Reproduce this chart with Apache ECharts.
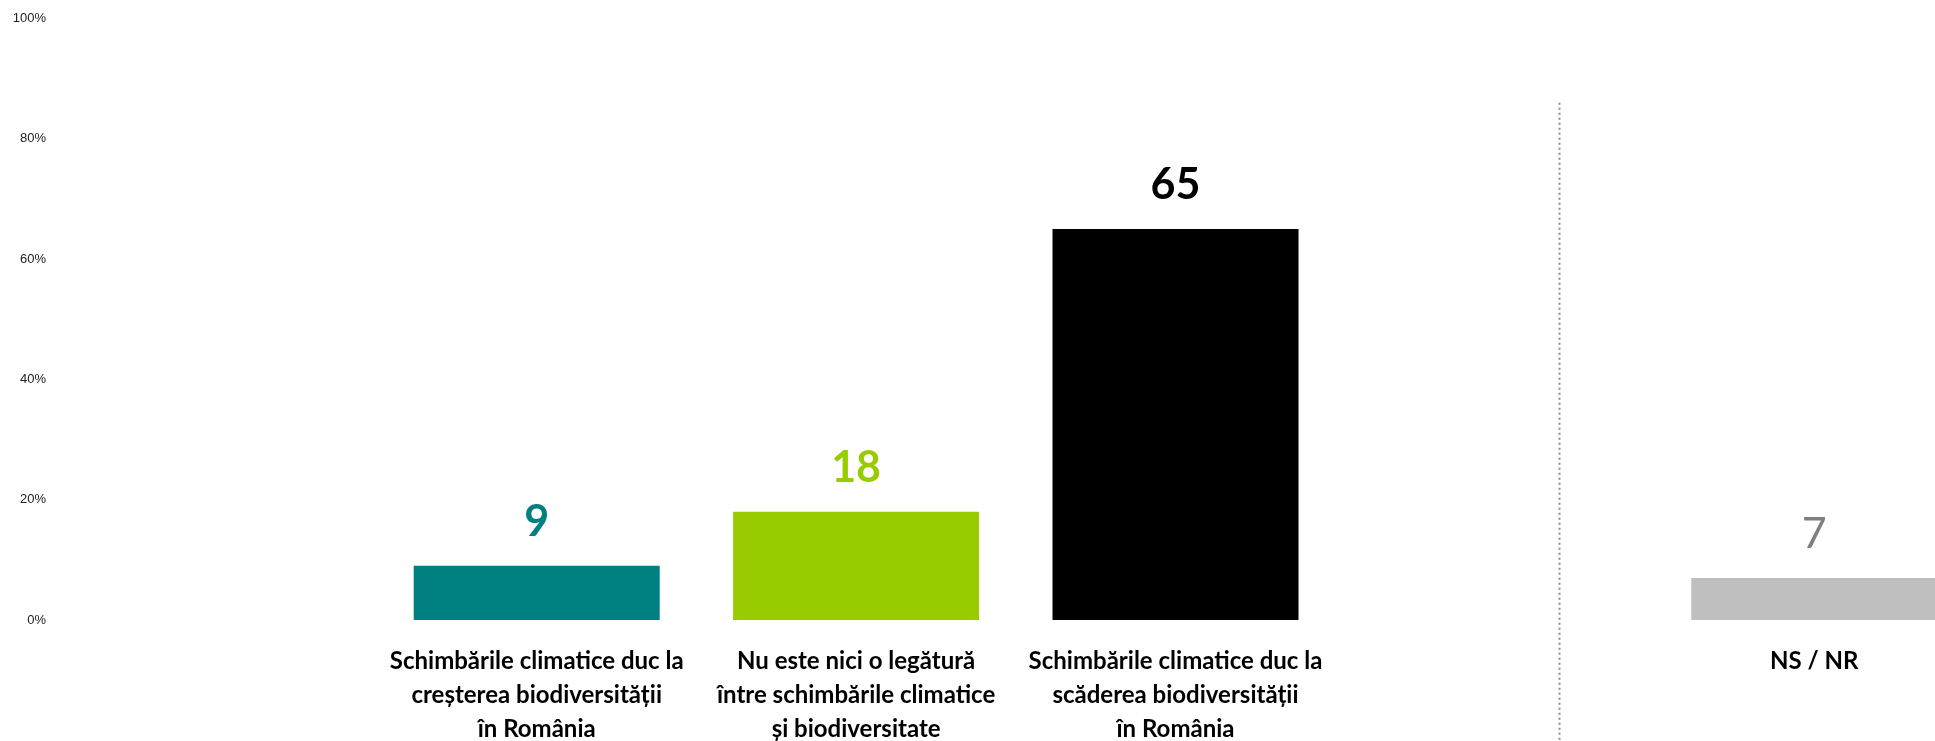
<!DOCTYPE html>
<html>
<head>
<meta charset="utf-8">
<script src="https://cdn.jsdelivr.net/npm/echarts@6/dist/echarts.min.js"></script>
<style>
  html, body { margin: 0; padding: 0; background: #fff; }
  #main { width: 1935px; height: 741px; }
</style>
</head>
<body>
<div id="main"></div>
<script>
// categories (empty slot before NS / NR keeps the gap)
var categories = [
  'Schimbările climatice duc la\ncreșterea biodiversității\nîn România',
  'Nu este nici o legătură\nîntre schimbările climatice\nși biodiversitate',
  'Schimbările climatice duc la\nscăderea biodiversității\nîn România',
  '',
  'NS / NR'
];
var values = [9, 18, 65, null, 7];
var barColors = ['#008080', '#99CC00', '#000000', '#ffffff', '#BFBFBF'];
var labelColors = ['#008080', '#99CC00', '#000000', '#ffffff', '#7F7F7F'];
var labelWeights = ['bold', 'bold', 'bold', 'normal', 'normal'];
var yTicks = [0, 20, 40, 60, 80, 100];

var chart = echarts.init(document.getElementById('main'));

var seriesData = values.map(function (v, i) {
  return {
    value: v,
    itemStyle: { color: barColors[i] },
    label: { color: labelColors[i], fontWeight: labelWeights[i] }
  };
});

var option = {
  backgroundColor: '#ffffff',
  animation: false,
  grid: {
    left: 377, top: 18.5, width: 1597, height: 601.5,
    containLabel: false,
    outerBoundsMode: 'none'
  },
  xAxis: {
    type: 'category',
    data: categories,
    axisLine: { show: false },
    axisTick: { show: false },
    axisLabel: {
      interval: 0,
      margin: 24,
      color: '#000',
      fontFamily: 'Lato',
      fontWeight: 'bold',
      fontSize: 24,
      lineHeight: 34
    }
  },
  yAxis: {
    type: 'value',
    min: yTicks[0],
    max: yTicks[yTicks.length - 1],
    interval: 20,
    splitLine: { show: false },
    axisLine: { show: false },
    axisTick: { show: false },
    axisLabel: {
      margin: 331,
      color: '#222',
      fontFamily: 'Liberation Sans',
      fontSize: 13,
      formatter: '{value}%'
    }
  },
  series: [{
    type: 'bar',
    data: seriesData,
    barWidth: 246,
    label: {
      show: true,
      position: 'top',
      distance: 22,
      fontFamily: 'Lato',
      fontSize: 43
    }
  }]
};

chart.setOption(option);

// dotted separator between the answers and NS / NR
var x3 = chart.convertToPixel({ xAxisIndex: 0 }, 3);
var x4 = chart.convertToPixel({ xAxisIndex: 0 }, 4);
var sepX = Math.round(x3 + (x4 - x3) * 0.2) + 0.5;
var sepTop = chart.convertToPixel({ yAxisIndex: 0 }, 86);
chart.setOption({
  graphic: [{
    type: 'line',
    shape: { x1: sepX, y1: sepTop, x2: sepX, y2: 741 },
    style: { stroke: '#8c8c8c', lineWidth: 2, lineDash: [2, 3] }
  }]
});
</script>
</body>
</html>
